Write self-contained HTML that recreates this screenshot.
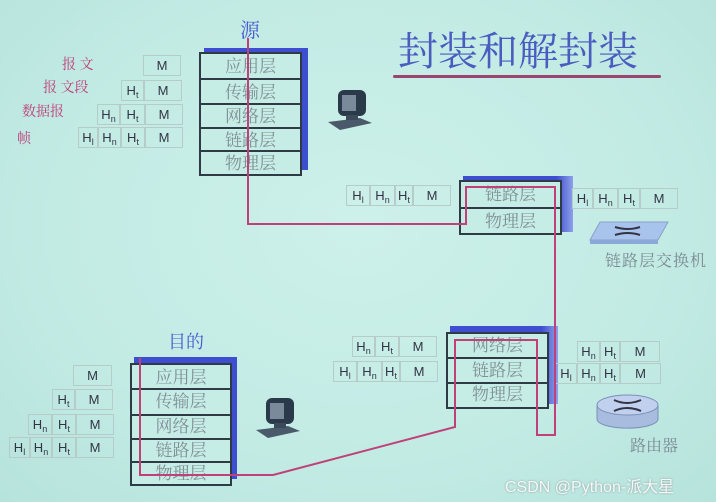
<!DOCTYPE html>
<html><head><meta charset="utf-8"><style>
body{margin:0;width:716px;height:502px;overflow:hidden;background:radial-gradient(ellipse at 50% 45%,#cdf0ea 0%,#c2ebe4 60%,#b6e3dc 100%);position:relative;font-family:"Liberation Serif","Noto Serif CJK SC",serif}
.a{position:absolute}
.c{position:absolute;border:1px solid #b6ccc8;box-sizing:border-box;font-family:"Liberation Sans",sans-serif;font-size:13px;color:#334;text-align:center;line-height:19px}
.c sub{font-size:9px;vertical-align:-3px}
.st{position:absolute;border:2px solid #2e3a44;box-sizing:border-box;background:#c6ece6}
.st div{border-bottom:2px solid #2e3a44;box-sizing:border-box;text-align:center;font-size:17px;color:#7f8f94}
.st div:last-child{border-bottom:none}
.sh{position:absolute;background:#3d4fd0}
.lb{position:absolute;color:#c04078;font-size:14px}
</style></head><body>
<div class="a" style="left:398px;top:20px;font-size:40px;color:#4a5cc0;font-family:'Liberation Serif','Noto Serif CJK SC',serif">封装和解封装</div>
<div class="a" style="left:393px;top:75px;width:268px;height:3px;background:#9a4470;border-radius:2px"></div>

<div class="a" style="left:240px;top:14px;font-size:20px;color:#4a5cd0">源</div>
<div class="sh" style="left:204px;top:48px;width:104px;height:122px"></div>
<div class="st" style="left:199px;top:52px;width:103px;height:124px">
<div style="height:26px;line-height:26px">应用层</div><div style="height:25px;line-height:25px">传输层</div><div style="height:24px;line-height:24px">网络层</div><div style="height:23px;line-height:23px">链路层</div><div style="height:24px;line-height:24px">物理层</div></div>

<div class="lb" style="left:62px;top:54px">报 文</div>
<div class="lb" style="left:43px;top:77px">报 文段</div>
<div class="lb" style="left:22px;top:101px">数据报</div>
<div class="lb" style="left:17px;top:128px">帧</div>
<div class="c" style="left:143px;top:55px;width:38px;height:21px">M</div>
<div class="c" style="left:121px;top:80px;width:23px;height:21px">H<sub>t</sub></div><div class="c" style="left:144px;top:80px;width:38px;height:21px">M</div>
<div class="c" style="left:97px;top:104px;width:23px;height:21px">H<sub>n</sub></div><div class="c" style="left:120px;top:104px;width:25px;height:21px">H<sub>t</sub></div><div class="c" style="left:145px;top:104px;width:38px;height:21px">M</div>
<div class="c" style="left:78px;top:127px;width:20px;height:21px">H<sub>l</sub></div><div class="c" style="left:98px;top:127px;width:23px;height:21px">H<sub>n</sub></div><div class="c" style="left:121px;top:127px;width:24px;height:21px">H<sub>t</sub></div><div class="c" style="left:145px;top:127px;width:38px;height:21px">M</div>

<div class="a" style="left:168px;top:328px;font-size:18px;color:#4a5cd0">目的</div>
<div class="sh" style="left:134px;top:357px;width:103px;height:122px"></div>
<div class="st" style="left:130px;top:363px;width:102px;height:123px">
<div style="height:25px;line-height:25px">应用层</div><div style="height:26px;line-height:24px">传输层</div><div style="height:24px;line-height:22px">网络层</div><div style="height:23px;line-height:21px">链路层</div><div style="height:23px;line-height:21px">物理层</div></div>
<div class="c" style="left:73px;top:365px;width:39px;height:21px">M</div>
<div class="c" style="left:52px;top:389px;width:23px;height:21px">H<sub>t</sub></div><div class="c" style="left:75px;top:389px;width:38px;height:21px">M</div>
<div class="c" style="left:28px;top:414px;width:24px;height:21px">H<sub>n</sub></div><div class="c" style="left:52px;top:414px;width:24px;height:21px">H<sub>t</sub></div><div class="c" style="left:76px;top:414px;width:38px;height:21px">M</div>
<div class="c" style="left:9px;top:437px;width:21px;height:21px">H<sub>l</sub></div><div class="c" style="left:30px;top:437px;width:22px;height:21px">H<sub>n</sub></div><div class="c" style="left:52px;top:437px;width:24px;height:21px">H<sub>t</sub></div><div class="c" style="left:76px;top:437px;width:38px;height:21px">M</div>

<!-- switch -->
<div class="a" style="left:463px;top:176px;width:110px;height:56px;background:linear-gradient(90deg,#3d4fd0 85%,#8fa0e8)"></div>
<div class="st" style="left:459px;top:180px;width:103px;height:55px"><div style="height:27px;line-height:26px">链路层</div><div style="height:26px;line-height:25px">物理层</div></div>
<div class="c" style="left:346px;top:185px;width:24px;height:21px">H<sub>l</sub></div><div class="c" style="left:370px;top:185px;width:25px;height:21px">H<sub>n</sub></div><div class="c" style="left:395px;top:185px;width:18px;height:21px">H<sub>t</sub></div><div class="c" style="left:413px;top:185px;width:38px;height:21px">M</div>
<div class="c" style="left:572px;top:188px;width:21px;height:21px">H<sub>l</sub></div><div class="c" style="left:593px;top:188px;width:25px;height:21px">H<sub>n</sub></div><div class="c" style="left:618px;top:188px;width:22px;height:21px">H<sub>t</sub></div><div class="c" style="left:640px;top:188px;width:38px;height:21px">M</div>
<div class="a" style="left:605px;top:248px;font-size:16px;color:#7b8a90;letter-spacing:1px">链路层交换机</div>

<!-- router -->
<div class="a" style="left:450px;top:326px;width:108px;height:78px;background:linear-gradient(90deg,#3d4fd0 85%,#8fa0e8)"></div>
<div class="st" style="left:446px;top:332px;width:103px;height:77px"><div style="height:25px;line-height:24px">网络层</div><div style="height:25px;line-height:24px">链路层</div><div style="height:23px;line-height:22px">物理层</div></div>
<div class="c" style="left:352px;top:336px;width:23px;height:21px">H<sub>n</sub></div><div class="c" style="left:375px;top:336px;width:24px;height:21px">H<sub>t</sub></div><div class="c" style="left:399px;top:336px;width:38px;height:21px">M</div>
<div class="c" style="left:333px;top:361px;width:24px;height:21px">H<sub>l</sub></div><div class="c" style="left:357px;top:361px;width:25px;height:21px">H<sub>n</sub></div><div class="c" style="left:382px;top:361px;width:18px;height:21px">H<sub>t</sub></div><div class="c" style="left:400px;top:361px;width:38px;height:21px">M</div>
<div class="c" style="left:577px;top:341px;width:23px;height:21px">H<sub>n</sub></div><div class="c" style="left:600px;top:341px;width:20px;height:21px">H<sub>t</sub></div><div class="c" style="left:620px;top:341px;width:40px;height:21px">M</div>
<div class="c" style="left:555px;top:363px;width:22px;height:21px">H<sub>l</sub></div><div class="c" style="left:577px;top:363px;width:23px;height:21px">H<sub>n</sub></div><div class="c" style="left:600px;top:363px;width:20px;height:21px">H<sub>t</sub></div><div class="c" style="left:620px;top:363px;width:41px;height:21px">M</div>
<div class="a" style="left:630px;top:433px;font-size:16px;color:#7b8a90">路由器</div>

<svg class="a" style="left:0;top:0" width="716" height="502">
<polygon points="600,222 668,222 658,240 590,240" fill="#a8c4ec" stroke="#8aa0c8"/>
<polygon points="590,240 658,240 658,244 590,244" fill="#8aa8d8"/>
<path d="M615,227 Q628,231 640,227 M615,235 Q628,231 640,235" stroke="#334" stroke-width="2" fill="none"/>
<path d="M597,405 v14 a30,9 0 0 0 61,0 v-14" fill="#a8bce0" stroke="#7c90b8"/>
<ellipse cx="627.5" cy="405" rx="30.5" ry="10" fill="#c0d0ee" stroke="#7c90b8"/>
<path d="M614,400 Q627,406 641,400 M614,411 Q627,405 641,411" stroke="#334" stroke-width="2" fill="none"/>
<g transform="translate(328,90)"><rect x="10" y="0" width="28" height="26" rx="6" fill="#2a3a4a"/><rect x="14" y="5" width="14" height="16" fill="#7a8a9a"/><polygon points="0,32 32,28 44,33 12,40" fill="#4a5a6a"/><rect x="18" y="25" width="12" height="5" fill="#3a4a5a"/></g>
<g transform="translate(256,398)"><rect x="10" y="0" width="28" height="26" rx="6" fill="#2a3a4a"/><rect x="14" y="5" width="14" height="16" fill="#7a8a9a"/><polygon points="0,32 32,28 44,33 12,40" fill="#4a5a6a"/><rect x="18" y="25" width="12" height="5" fill="#3a4a5a"/></g>
<polyline points="248,38 248,224 466,224 466,187 555,187 555,435 537,435 537,340 455,340 455,427 273,475 140,475 140,358" fill="none" stroke="#c0407a" stroke-width="2"/>
</svg>
<div class="a" style="left:505px;top:473px;font-family:'Liberation Sans','Noto Sans CJK SC',sans-serif;font-size:16px;color:#f4f8f8;text-shadow:0 0 2px #8a9a9a">CSDN @Python-派大星</div>
</body></html>
